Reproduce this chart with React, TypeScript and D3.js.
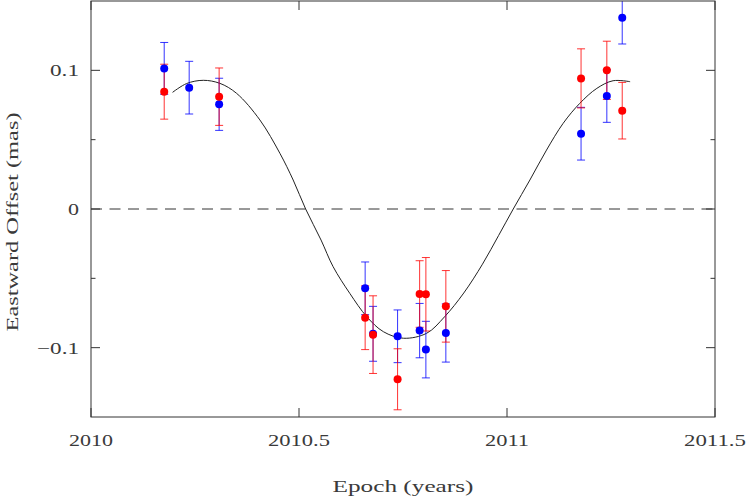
import * as d3 from "d3";

// epochs (years) and eastward offsets (mas) with 1-sigma errors
const blueEpoch = [2010.176, 2010.236, 2010.308, 2010.659, 2010.678, 2010.737, 2010.79, 2010.805, 2010.853, 2011.178, 2011.24, 2011.277];
const blueOffset = [0.1014, 0.0875, 0.0755, -0.0572, -0.09, -0.0918, -0.0877, -0.1014, -0.0894, 0.0543, 0.0815, 0.138];
const blueErr = [0.0187, 0.019, 0.0188, 0.019, 0.0198, 0.019, 0.0196, 0.0204, 0.021, 0.019, 0.019, 0.019];

const redEpoch = [2010.176, 2010.308, 2010.659, 2010.678, 2010.737, 2010.79, 2010.805, 2010.853, 2011.178, 2011.24, 2011.277];
const redOffset = [0.0846, 0.081, -0.0784, -0.0906, -0.1228, -0.0613, -0.0615, -0.0702, 0.0942, 0.1, 0.0709];
const redErr = [0.0198, 0.0207, 0.023, 0.028, 0.022, 0.024, 0.0265, 0.0258, 0.0213, 0.021, 0.0204];

// model curve
const modelEpoch = [2010.196, 2010.23, 2010.27, 2010.31, 2010.35, 2010.406, 2010.454, 2010.486, 2010.516, 2010.553, 2010.582, 2010.622, 2010.663, 2010.703, 2010.751, 2010.807, 2010.85, 2010.896, 2010.941, 2010.98, 2011.015, 2011.055, 2011.095, 2011.135, 2011.175, 2011.216, 2011.255, 2011.296];
const modelOffset = [0.0841, 0.0905, 0.0928, 0.0906, 0.0834, 0.0642, 0.0402, 0.0209, 0.0, -0.0224, -0.0416, -0.0608, -0.0777, -0.0885, -0.0932, -0.0896, -0.0777, -0.0606, -0.0398, -0.019, 0.0, 0.0209, 0.0425, 0.0618, 0.0762, 0.087, 0.0925, 0.0918];

const xTicks = [2010, 2010.5, 2011, 2011.5];
const xTickLabels = ["2010", "2010.5", "2011", "2011.5"];
const yTicks = [-0.1, 0, 0.1];
const yTickLabels = ["\u22120.1", "0", "0.1"];
const yMinor = [-0.05, 0.05];

const W = 747;
const H = 498;
const left = 91;
const right = 715;
const top = 1;
const bottom = 417;
const font = "'Liberation Serif', serif";
const textColor = "#3a3a3a";

// the plot font is wide, so stretch the serif text to the widths seen
const labelWidth = (s: string) =>
  Array.from(s).reduce((w, c) => w + (c === "." ? 7 : c === "\u2212" ? 13 : 11), 0);

export default function App() {
  const x = d3.scaleLinear().domain([2010, 2011.5]).range([left, right]);
  const y = d3.scaleLinear().domain([-0.15, 0.15]).range([bottom, top]);

  const line = d3
    .line<number>()
    .x((_, i) => x(modelEpoch[i]))
    .y((d) => y(d))
    .curve(d3.curveCatmullRom);

  const bars = (ep: number[], off: number[], err: number[], color: string) =>
    ep.map((t, i) => {
      const cx = x(t);
      const y1 = y(off[i] + err[i]);
      const y2 = y(off[i] - err[i]);
      return (
        <g key={color + i} stroke={color} strokeWidth={1} strokeOpacity={0.8}>
          <line x1={cx} x2={cx} y1={Math.max(y1, top)} y2={y2} />
          {y1 > top && <line x1={cx - 4} x2={cx + 4} y1={y1} y2={y1} />}
          <line x1={cx - 4} x2={cx + 4} y1={y2} y2={y2} />
        </g>
      );
    });

  const dots = (ep: number[], off: number[], color: string) =>
    ep.map((t, i) => <circle key={color + "p" + i} cx={x(t)} cy={y(off[i])} r={4} fill={color} />);

  const textProps = { fontSize: 16, fill: textColor, lengthAdjust: "spacingAndGlyphs" as const };

  return (
    <svg width={W} height={H} style={{ position: "absolute", left: 0, top: 0 }} fontFamily={font}>
      <rect x={0} y={0} width={W} height={H} fill="#fff" />
      <line x1={left} x2={right} y1={y(0)} y2={y(0)} stroke="#333" strokeDasharray="11,7.5" />
      <path d={line(modelOffset) || ""} fill="none" stroke="#222" strokeWidth={1} />
      {bars(blueEpoch, blueOffset, blueErr, "#0000ff")}
      {bars(redEpoch, redOffset, redErr, "#ff0000")}
      {dots(blueEpoch, blueOffset, "#0000ff")}
      {dots(redEpoch, redOffset, "#ff0000")}
      <rect x={left} y={top} width={right - left} height={bottom - top} fill="none" stroke="#333" strokeWidth={1} />
      {xTicks.map((t, i) => (
        <g key={"xt" + i}>
          <line x1={x(t)} x2={x(t)} y1={bottom} y2={bottom - 9} stroke="#333" />
          <line x1={x(t)} x2={x(t)} y1={top} y2={top + 9} stroke="#333" />
          <text
            {...textProps}
            x={x(t)}
            y={446}
            textAnchor="middle"
            textLength={labelWidth(xTickLabels[i])}
          >
            {xTickLabels[i]}
          </text>
        </g>
      ))}
      {yTicks.map((v, i) => (
        <g key={"yt" + i}>
          <line x1={left} x2={left + 9} y1={y(v)} y2={y(v)} stroke="#333" />
          <line x1={right} x2={right - 9} y1={y(v)} y2={y(v)} stroke="#333" />
          <text
            {...textProps}
            x={79}
            y={y(v) + 6}
            textAnchor="end"
            textLength={labelWidth(yTickLabels[i])}
          >
            {yTickLabels[i]}
          </text>
        </g>
      ))}
      {yMinor.map((v, i) => (
        <g key={"ym" + i}>
          <line x1={left} x2={left + 4.5} y1={y(v)} y2={y(v)} stroke="#333" />
          <line x1={right} x2={right - 4.5} y1={y(v)} y2={y(v)} stroke="#333" />
        </g>
      ))}
      <text {...textProps} x={(left + right) / 2} y={492} textAnchor="middle" textLength={141}>
        Epoch (years)
      </text>
      <text
        {...textProps}
        transform={`translate(18,${222}) rotate(-90)`}
        textAnchor="middle"
        textLength={219}
      >
        Eastward Offset (mas)
      </text>
    </svg>
  );
}
